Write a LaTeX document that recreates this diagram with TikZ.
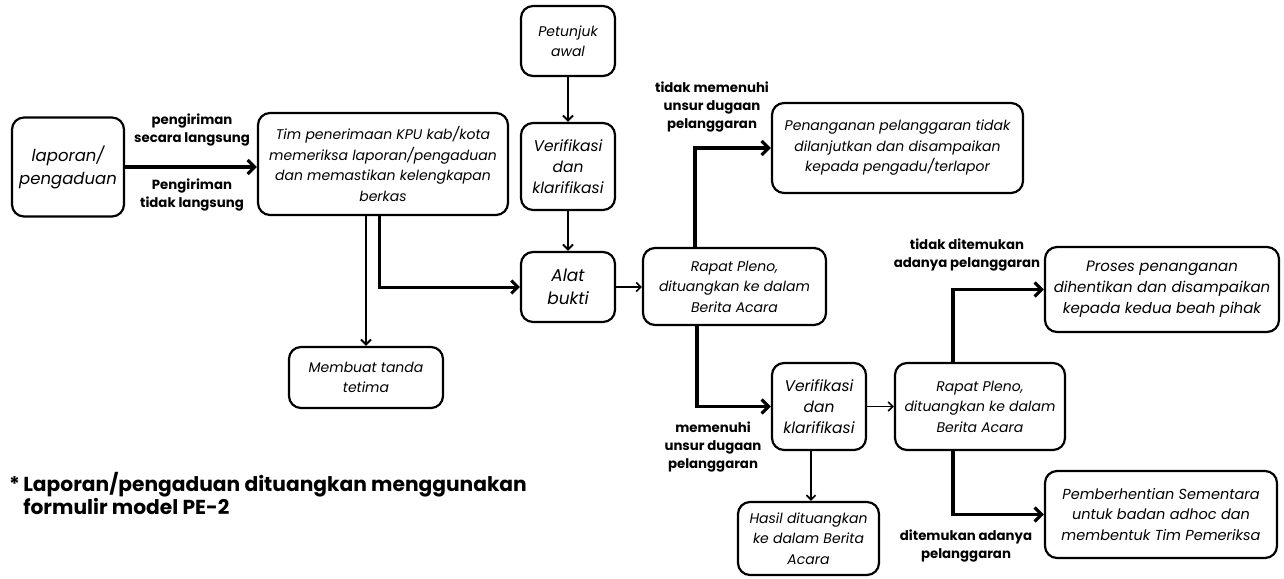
\documentclass[tikz,border=0pt]{standalone}
\usepackage{fontspec}
\setmainfont{Poppins}
\usetikzlibrary{arrows.meta}
\tikzset{
  box/.style={draw, rounded corners=12pt, line width=2.2pt, align=center, inner sep=2pt,
    font=\itshape\fontsize{14}{20.5}\selectfont},
  bigbox/.style={box, font=\itshape\fontsize{15.5}{21}\selectfont},
  lbl/.style={align=center, font=\bfseries\fontsize{13.3}{18}\selectfont, inner sep=0pt},
  bigarrow/.style={line width=3.6pt, -{Straight Barb[length=7pt,width=14pt,line width=3.2pt]}},
  midarrow/.style={line width=3pt, -{Straight Barb[length=6.5pt,width=13pt,line width=3pt]}},
  thinarrow/.style={line width=2pt, -{Straight Barb[length=5pt,width=10pt,line width=2pt]}},
  slimarrow/.style={line width=1.7pt, -{Straight Barb[length=4.5pt,width=9pt,line width=1.7pt]}}
}
\begin{document}
\begin{tikzpicture}[x=1pt,y=-1pt]
\useasboundingbox (0,0) rectangle (1284,578);
% boxes
\node[bigbox, minimum width=112pt, minimum height=99pt, font=\itshape\fontsize{16.5}{23}\selectfont] (lap) at (68,167) {laporan/\\pengaduan};
\node[box, minimum width=250pt, minimum height=102pt] (tim) at (383,164) {Tim penerimaan KPU kab/kota\\memeriksa laporan/pengaduan\\dan memastikan kelengkapan\\berkas};
\node[box, minimum width=94pt, minimum height=70pt] (pet) at (568,41) {Petunjuk\\awal};
\node[bigbox, minimum width=94pt, minimum height=87pt] (ver1) at (568,166.5) {Verifikasi\\dan\\klarifikasi};
\node[box, minimum width=94pt, minimum height=70pt, font=\itshape\fontsize{17}{23}\selectfont] (alat) at (568,287) {Alat\\bukti};
\node[box, minimum width=154pt, minimum height=61pt] (mem) at (366,377.5) {Membuat tanda\\tetima};
\node[box, minimum width=183pt, minimum height=77pt] (rap1) at (734.5,286.5) {Rapat Pleno,\\dituangkan ke dalam\\Berita Acara};
\node[box, minimum width=251pt, minimum height=90pt] (pen) at (897.5,148) {Penanganan pelanggaran tidak\\dilanjutkan dan disampaikan\\kepada pengadu/terlapor};
\node[bigbox, minimum width=94pt, minimum height=87pt] (ver2) at (819,406.5) {Verifikasi\\dan\\klarifikasi};
\node[box, minimum width=170pt, minimum height=87pt] (rap2) at (980,406.5) {Rapat Pleno,\\dituangkan ke dalam\\Berita Acara};
\node[box, minimum width=234pt, minimum height=85pt, font=\itshape\fontsize{15}{21}\selectfont] (pro) at (1162,289.5) {Proses penanganan\\dihentikan dan disampaikan\\kepada kedua beah pihak};
\node[box, minimum width=232pt, minimum height=87pt, font=\itshape\fontsize{14.5}{20.5}\selectfont] (pem) at (1161,514.5) {Pemberhentian Sementara\\untuk badan adhoc dan\\membentuk Tim Pemeriksa};
\node[box, minimum width=141pt, minimum height=73pt] (has) at (808.5,538.5) {Hasil dituangkan\\ke dalam Berita\\Acara};
% labels
\node[lbl] (l1) at (192,130) {pengiriman\\secara langsung};
\node[lbl] (l2) at (192,195) {Pengiriman\\tidak langsung};
\node[lbl] (l3) at (712,107) {tidak memenuhi\\unsur dugaan\\pelanggaran};
\node[lbl] (l4) at (713,447) {memenuhi\\unsur dugaan\\pelanggaran};
\node[lbl] (l5) at (967,255) {tidak ditemukan\\adanya pelanggaran};
\node[lbl] (l6) at (966,546) {ditemukan adanya\\pelanggaran};
\node[anchor=north west, align=left, inner sep=0pt, font=\bfseries\fontsize{20.2}{23}\selectfont] (fn) at (9,472) {*\,Laporan/pengaduan dituangkan menggunakan\\\phantom{*}\,formulir model PE-2};
% connectors
\draw[bigarrow] (lap.east) -- (lap.east -| tim.west);
\draw[midarrow] (tim.south -| 379,0) |- (alat.west);
\draw[thinarrow] (tim.south -| mem.north) -- (mem.north);
\draw[thinarrow] (pet) -- (ver1);
\draw[thinarrow] (ver1) -- (alat);
\draw[slimarrow] (alat.east) -- (alat.east -| rap1.west);
\draw[bigarrow] (rap1.north -| 695,0) |- (pen.west);
\draw[bigarrow] (rap1.south -| 697,0) |- (ver2.west);
\draw[slimarrow] (ver2) -- (rap2);
\draw[slimarrow] (ver2.south -| 811,0) -- (has.north -| 811,0);
\draw[bigarrow] (rap2.north -| 953,0) |- (pro.west);
\draw[bigarrow] (rap2.south -| 953,0) |- (pem.west);
\end{tikzpicture}
\end{document}
